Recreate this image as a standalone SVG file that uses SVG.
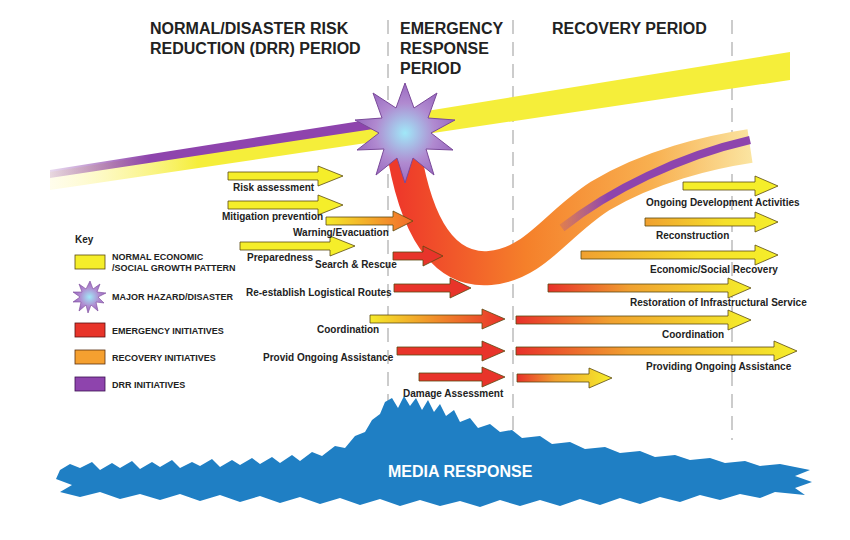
<svg xmlns="http://www.w3.org/2000/svg" width="850" height="540" viewBox="0 0 850 540">
<defs>
<style>
.h{font-family:"Liberation Sans",Arial,sans-serif;font-weight:bold;font-size:16px;fill:#222;}
.l{font-family:"Liberation Sans",Arial,sans-serif;font-weight:bold;font-size:10px;fill:#222;}
.k{font-family:"Liberation Sans",Arial,sans-serif;font-weight:bold;font-size:9px;fill:#222;}
.ar{stroke:#5a4a10;stroke-width:0.8;}
.dash{stroke:#ccc;stroke-width:2;stroke-dasharray:14,8;fill:none;}
</style>
<linearGradient id="yo" x1="0" x2="1"><stop offset="0" stop-color="#f5ea2a"/><stop offset="1" stop-color="#f26a2a"/></linearGradient>
<linearGradient id="yr" x1="0" x2="1"><stop offset="0" stop-color="#f5ea2a"/><stop offset="0.5" stop-color="#f08a2a"/><stop offset="1" stop-color="#e8302a"/></linearGradient>
<linearGradient id="oy" x1="0" x2="1"><stop offset="0" stop-color="#f0a030"/><stop offset="0.6" stop-color="#f5e02a"/><stop offset="1" stop-color="#f5ee2a"/></linearGradient>
<linearGradient id="ry" x1="0" x2="1"><stop offset="0" stop-color="#e8302a"/><stop offset="0.4" stop-color="#f0a030"/><stop offset="1" stop-color="#f5ee2a"/></linearGradient>
<linearGradient id="band" x1="0" x2="1"><stop offset="0" stop-color="#fff8c0" stop-opacity="0.3"/><stop offset="0.2" stop-color="#f5ee3a"/><stop offset="1" stop-color="#f5ee3a"/></linearGradient>
<linearGradient id="purp" x1="0" x2="1"><stop offset="0" stop-color="#8e44ad" stop-opacity="0.2"/><stop offset="0.3" stop-color="#8e44ad"/><stop offset="1" stop-color="#8e44ad"/></linearGradient>
<linearGradient id="purp2" gradientUnits="userSpaceOnUse" x1="560" y1="0" x2="750" y2="0"><stop offset="0" stop-color="#8e44ad" stop-opacity="0.2"/><stop offset="0.25" stop-color="#8e44ad"/><stop offset="1" stop-color="#8e44ad"/></linearGradient>
<linearGradient id="u" gradientUnits="userSpaceOnUse" x1="400" y1="0" x2="760" y2="0"><stop offset="0" stop-color="#ee3a2a"/><stop offset="0.35" stop-color="#f5802a"/><stop offset="0.7" stop-color="#f8b050"/><stop offset="1" stop-color="#fbe9a8"/></linearGradient>
<radialGradient id="st"><stop offset="0" stop-color="#a0e8f8"/><stop offset="0.6" stop-color="#b08ad0"/><stop offset="1" stop-color="#9a6ac0"/></radialGradient>
</defs>
<rect width="850" height="540" fill="#fff"/>
<g id="dividers">
<line class="dash" x1="388" y1="20" x2="388" y2="440"/>
<line class="dash" x1="513" y1="20" x2="513" y2="440"/>
<line class="dash" x1="732" y1="20" x2="732" y2="440"/>
</g>
<g id="headings">
<text class="h" x="150" y="34">NORMAL/DISASTER RISK</text>
<text class="h" x="150" y="54">REDUCTION (DRR) PERIOD</text>
<text class="h" x="400" y="34">EMERGENCY</text>
<text class="h" x="400" y="54">RESPONSE</text>
<text class="h" x="400" y="74">PERIOD</text>
<text class="h" x="552" y="34">RECOVERY PERIOD</text>
</g>
<g id="bands">
<path d="M50,172 L790,52 L790,80 L50,190 Z" fill="url(#band)"/>
<path d="M50,170 L380,118 L380,128 L50,178 Z" fill="url(#purp)"/>
<path d="M402,140 C415,230 445,272 490,268 C535,264 555,225 600,196 C650,166 710,152 750,146" fill="none" stroke="url(#u)" stroke-width="34" stroke-linecap="butt"/>
<path d="M562,228 C610,190 680,156 750,140" fill="none" stroke="url(#purp2)" stroke-width="8"/>
</g>
<g id="hazard">
<polygon points="405,83 414,108 437,93 428,118 455,120 431,133 453,150 426,149 434,175 413,158 405,183 397,158 376,175 384,149 357,150 379,133 355,120 382,118 373,93 396,108" fill="url(#st)" stroke="#7a4a9a" stroke-width="1"/>
</g>
<g id="connectors">
<g class="ar">
<path d="M228,172 L318,172 L318,166 L343,176 L318,186 L318,180 L228,180 Z" fill="#f5ee2a"/>
<path d="M228,201 L318,201 L318,195 L343,205 L318,215 L318,209 L228,209 Z" fill="#f5ee2a"/>
<path d="M326,217 L393,217 L393,211 L413,221 L393,231 L393,225 L326,225 Z" fill="url(#yo)"/>
<path d="M240,242 L330,242 L330,236 L355,246 L330,256 L330,250 L240,250 Z" fill="#f5ee2a"/>
<path d="M393,252 L423,252 L423,246 L443,256 L423,266 L423,260 L393,260 Z" fill="#e8342a"/>
<path d="M394,284 L450,284 L450,278 L471,288 L450,298 L450,292 L394,292 Z" fill="#e8342a"/>
<path d="M370,315 L482,315 L482,309 L505,319 L482,329 L482,323 L370,323 Z" fill="url(#yr)"/>
<path d="M397,347 L482,347 L482,341 L505,351 L482,361 L482,355 L397,355 Z" fill="#e8342a"/>
<path d="M419,373 L482,373 L482,367 L505,377 L482,387 L482,381 L419,381 Z" fill="#e8342a"/>
<path d="M683,182 L755,182 L755,176 L778,186 L755,196 L755,190 L683,190 Z" fill="#f5ee2a"/>
<path d="M645,218 L755,218 L755,212 L778,222 L755,232 L755,226 L645,226 Z" fill="url(#oy)"/>
<path d="M581,251 L755,251 L755,245 L778,255 L755,265 L755,259 L581,259 Z" fill="url(#oy)"/>
<path d="M548,284 L728,284 L728,278 L751,288 L728,298 L728,292 L548,292 Z" fill="url(#ry)"/>
<path d="M516,316 L728,316 L728,310 L751,320 L728,330 L728,324 L516,324 Z" fill="url(#ry)"/>
<path d="M516,347 L774,347 L774,341 L797,351 L774,361 L774,355 L516,355 Z" fill="url(#ry)"/>
<path d="M517,374 L589,374 L589,368 L612,378 L589,388 L589,382 L517,382 Z" fill="url(#ry)"/>
</g>
</g>
<g id="labels">
<text class="l" x="233" y="191">Risk assessment</text>
<text class="l" x="222" y="220">Mitigation prevention</text>
<text class="l" x="293" y="236">Warning/Evacuation</text>
<text class="l" x="247" y="261">Preparedness</text>
<text class="l" x="315" y="268">Search &amp; Rescue</text>
<text class="l" x="246" y="296">Re-establish Logistical Routes</text>
<text class="l" x="317" y="333">Coordination</text>
<text class="l" x="263" y="361">Provid Ongoing Assistance</text>
<text class="l" x="403" y="397">Damage Assessment</text>
<text class="l" x="646" y="206">Ongoing Development Activities</text>
<text class="l" x="656" y="239">Reconstruction</text>
<text class="l" x="650" y="273">Economic/Social Recovery</text>
<text class="l" x="630" y="306">Restoration of Infrastructural Service</text>
<text class="l" x="662" y="338">Coordination</text>
<text class="l" x="646" y="370">Providing Ongoing Assistance</text>
</g>
<g id="key">
<text class="l" x="75" y="243">Key</text>
<rect x="75" y="255" width="30" height="14" fill="#f5ee2a" stroke="#5a4a10" stroke-width="0.8"/>
<text class="k" x="112" y="260">NORMAL ECONOMIC</text>
<text class="k" x="112" y="271">/SOCIAL GROWTH PATTERN</text>
<polygon points="90,281 93,289 100,284 97,292 106,293 98,297 104,303 96,302 98,311 91,305 88,313 86,305 79,311 81,302 73,302 80,297 73,292 82,292 79,284 86,289" fill="url(#st)" stroke="#7a4a9a" stroke-width="0.6"/>
<text class="k" x="112" y="300">MAJOR HAZARD/DISASTER</text>
<rect x="75" y="323" width="30" height="14" fill="#e8342a" stroke="#5a1010" stroke-width="0.8"/>
<text class="k" x="112" y="334">EMERGENCY INITIATIVES</text>
<rect x="75" y="350" width="30" height="14" fill="#f5a030" stroke="#5a3010" stroke-width="0.8"/>
<text class="k" x="112" y="361">RECOVERY INITIATIVES</text>
<rect x="75" y="377" width="30" height="14" fill="#8e44ad" stroke="#3a1050" stroke-width="0.8"/>
<text class="k" x="112" y="388">DRR INITIATIVES</text>
</g>
<g id="media">
<path d="M60,470 L70,464 L80,468 L92,462 L100,470 L112,463 L120,468 L132,461 L140,469 L152,462 L160,467 L172,460 L180,468 L192,462 L200,466 L212,459 L220,467 L232,460 L240,465 L252,458 L260,464 L272,457 L280,463 L292,455 L300,461 L312,452 L322,456 L335,446 L345,448 L355,436 L365,432 L372,420 L380,414 L385,402 L392,398 L398,408 L404,396 L410,406 L416,398 L422,410 L428,400 L434,412 L440,404 L446,416 L454,410 L460,422 L470,418 L478,428 L490,424 L500,432 L512,430 L522,438 L540,436 L552,444 L570,442 L585,449 L605,447 L620,453 L640,451 L655,457 L675,455 L690,460 L710,458 L725,463 L745,461 L760,466 L780,464 L810,470 L795,476 L812,482 L795,488 L805,495 L775,492 L760,498 L740,494 L720,500 L700,495 L680,502 L660,497 L640,504 L620,498 L600,505 L580,499 L560,506 L540,500 L520,506 L500,500 L480,507 L460,501 L440,506 L420,500 L400,506 L380,499 L360,505 L340,498 L320,504 L300,497 L280,503 L260,496 L240,502 L220,495 L200,501 L180,494 L160,500 L140,494 L120,499 L100,492 L80,497 L60,492 L72,485 L56,479 Z" fill="#1f7fc4"/>
<text class="h" x="388" y="477" style="fill:#fff">MEDIA RESPONSE</text>
</g>
</svg>
